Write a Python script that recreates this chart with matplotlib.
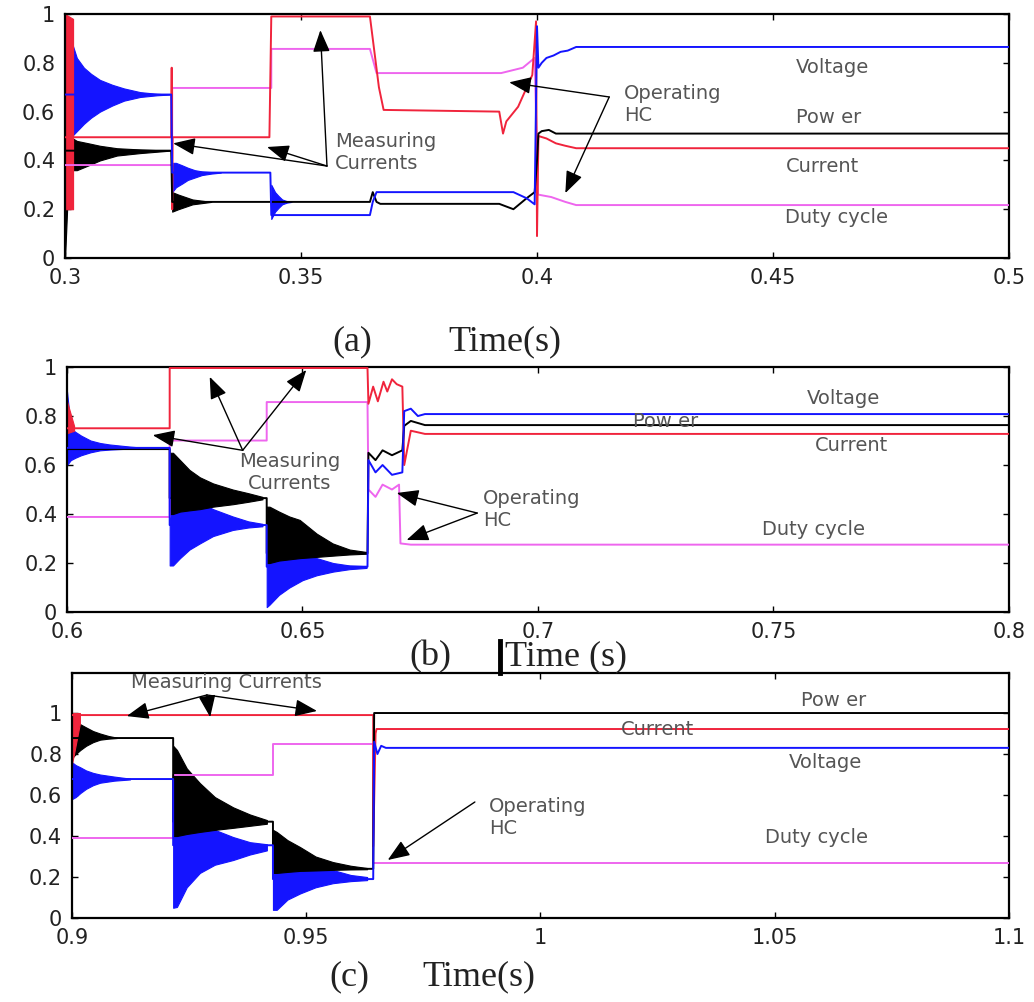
import matplotlib
matplotlib.use("Agg")
import matplotlib.pyplot as plt
from matplotlib.lines import Line2D

# colours of the four signals
C_VOLT = "#1414ff"
C_POW = "#000000"
C_CUR = "#f0243c"
C_DUTY = "#ee66ee"

# ==========================================
# panel (a): 0.3 - 0.5 s
# ==========================================
a_volt_t = [0.3, 0.3225, 0.3227, 0.3435, 0.3437, 0.3646, 0.3652, 0.3660, 0.3950, 0.3978,
            0.3995, 0.4000, 0.4003, 0.4010, 0.4020, 0.4035, 0.4050, 0.4065, 0.4083, 0.5]
a_volt_v = [0.67, 0.67, 0.35, 0.35, 0.176, 0.176, 0.23, 0.27, 0.27, 0.245,
            0.22, 0.95, 0.78, 0.80, 0.82, 0.83, 0.845, 0.85, 0.865, 0.865]
a_pow_t = [0.3, 0.3225, 0.3227, 0.3646, 0.3652, 0.3660, 0.3668, 0.3920, 0.3950, 0.3978,
           0.3995, 0.4000, 0.4003, 0.4010, 0.4025, 0.4040, 0.5]
a_pow_v = [0.44, 0.44, 0.23, 0.23, 0.27, 0.23, 0.222, 0.222, 0.20, 0.245,
           0.27, 0.40, 0.51, 0.52, 0.525, 0.51, 0.51]
a_cur_t = [0.3, 0.3225, 0.3226, 0.3227, 0.3228, 0.3433, 0.3437, 0.3646, 0.3665, 0.3675,
           0.3920, 0.3928, 0.3935, 0.3960, 0.3990, 0.3998, 0.4000, 0.4003, 0.4020, 0.4040,
           0.4060, 0.4083, 0.5]
a_cur_v = [0.495, 0.495, 0.78, 0.20, 0.495, 0.495, 0.99, 0.99, 0.70, 0.607,
           0.60, 0.51, 0.56, 0.62, 0.75, 0.97, 0.09, 0.50, 0.49, 0.47,
           0.46, 0.45, 0.45]
a_duty_t = [0.3, 0.3227, 0.3227, 0.3437, 0.3437, 0.3646, 0.3660, 0.3924, 0.3970, 0.3995,
            0.4002, 0.4030, 0.4060, 0.4083, 0.5]
a_duty_v = [0.381, 0.381, 0.697, 0.697, 0.857, 0.857, 0.758, 0.758, 0.78, 0.82,
            0.26, 0.25, 0.23, 0.217, 0.217]
# oscillation envelopes (time, upper, lower)
a_volt_bands = [
    ([0.3, 0.3006, 0.3015, 0.3025, 0.3040, 0.3055, 0.3074, 0.3100, 0.3125, 0.3159, 0.3195, 0.3222],
     [1.0, 0.95, 0.88, 0.82, 0.78, 0.755, 0.73, 0.71, 0.695, 0.68, 0.673, 0.67],
     [0.45, 0.48, 0.50, 0.52, 0.55, 0.575, 0.60, 0.625, 0.645, 0.66, 0.667, 0.67]),
    ([0.3227, 0.3235, 0.3248, 0.3260, 0.3275, 0.3290, 0.3310, 0.3330],
     [0.39, 0.39, 0.38, 0.37, 0.36, 0.355, 0.352, 0.35],
     [0.27, 0.29, 0.305, 0.32, 0.33, 0.34, 0.346, 0.35]),
    ([0.3437, 0.3445, 0.3452, 0.3460, 0.3470, 0.3480],
     [0.30, 0.27, 0.255, 0.24, 0.233, 0.23],
     [0.16, 0.19, 0.205, 0.22, 0.227, 0.23]),
]
a_pow_bands = [
    ([0.3, 0.3008, 0.3025, 0.3050, 0.3074, 0.3110, 0.3159, 0.3222],
     [1.0, 0.50, 0.48, 0.47, 0.46, 0.45, 0.445, 0.44],
     [0.0, 0.36, 0.36, 0.38, 0.40, 0.42, 0.43, 0.44]),
    ([0.3227, 0.3240, 0.3255, 0.3270, 0.3290, 0.3310],
     [0.27, 0.26, 0.25, 0.24, 0.235, 0.23],
     [0.19, 0.20, 0.21, 0.22, 0.225, 0.23]),
]
a_cur_bands = [
    ([0.3, 0.3017], [1.0, 0.98], [0.20, 0.20]),
]

# ==========================================
# panel (b): 0.6 - 0.8 s
# ==========================================
b_volt_t = [0.6, 0.6218, 0.6218, 0.6424, 0.6424, 0.6638, 0.6640, 0.6655, 0.6670, 0.6690,
            0.6712, 0.6716, 0.6730, 0.6745, 0.6760, 0.8]
b_volt_v = [0.67, 0.67, 0.355, 0.355, 0.185, 0.185, 0.62, 0.57, 0.60, 0.56,
            0.57, 0.82, 0.83, 0.80, 0.808, 0.808]
b_pow_t = [0.6, 0.6218, 0.6218, 0.6424, 0.6424, 0.6638, 0.6640, 0.6655, 0.6670, 0.6690,
           0.6712, 0.6716, 0.6730, 0.6760, 0.8]
b_pow_v = [0.665, 0.665, 0.465, 0.465, 0.24, 0.24, 0.65, 0.62, 0.66, 0.64,
           0.66, 0.76, 0.78, 0.763, 0.763]
b_cur_t = [0.6, 0.6218, 0.6218, 0.6638, 0.6640, 0.6650, 0.6660, 0.6672, 0.6680, 0.6690,
           0.6700, 0.6712, 0.6716, 0.6730, 0.6760, 0.8]
b_cur_v = [0.75, 0.75, 0.996, 0.996, 0.85, 0.92, 0.86, 0.94, 0.90, 0.95,
           0.93, 0.92, 0.60, 0.74, 0.727, 0.727]
b_duty_t = [0.6, 0.6218, 0.6218, 0.6424, 0.6424, 0.6638, 0.6640, 0.6655, 0.6670, 0.6690,
            0.6705, 0.6708, 0.6730, 0.8]
b_duty_v = [0.388, 0.388, 0.70, 0.70, 0.857, 0.857, 0.50, 0.47, 0.52, 0.50,
            0.52, 0.28, 0.275, 0.275]
b_volt_bands = [
    ([0.6, 0.6008, 0.6018, 0.6030, 0.6050, 0.6070, 0.6090, 0.6110, 0.6135, 0.6155],
     [0.90, 0.75, 0.735, 0.72, 0.70, 0.69, 0.684, 0.68, 0.675, 0.672],
     [0.60, 0.62, 0.63, 0.64, 0.652, 0.66, 0.663, 0.665, 0.667, 0.668]),
    ([0.6218, 0.6225, 0.6240, 0.6260, 0.6282, 0.6310, 0.6352, 0.6385, 0.6415],
     [0.60, 0.60, 0.55, 0.49, 0.45, 0.42, 0.39, 0.37, 0.36],
     [0.19, 0.19, 0.22, 0.255, 0.28, 0.31, 0.335, 0.345, 0.35]),
    ([0.6424, 0.6430, 0.6450, 0.6472, 0.6500, 0.6530, 0.6565, 0.6600, 0.6636],
     [0.40, 0.40, 0.35, 0.30, 0.25, 0.22, 0.20, 0.19, 0.187],
     [0.02, 0.03, 0.07, 0.10, 0.13, 0.15, 0.165, 0.175, 0.18]),
]
b_pow_bands = [
    ([0.6218, 0.6225, 0.6240, 0.6260, 0.6282, 0.6310, 0.6352, 0.6385, 0.6415],
     [0.65, 0.65, 0.62, 0.58, 0.55, 0.525, 0.50, 0.485, 0.47],
     [0.40, 0.40, 0.41, 0.415, 0.42, 0.43, 0.44, 0.45, 0.46]),
    ([0.6424, 0.6430, 0.6450, 0.6472, 0.6494, 0.6530, 0.6564, 0.6600, 0.6636],
     [0.43, 0.43, 0.41, 0.39, 0.376, 0.32, 0.28, 0.255, 0.245],
     [0.20, 0.20, 0.21, 0.215, 0.22, 0.225, 0.23, 0.235, 0.238]),
]
b_cur_bands = [
    ([0.6, 0.6015], [0.86, 0.76], [0.73, 0.74]),
]

# ==========================================
# panel (c): 0.9 - 1.1 s
# ==========================================
c_volt_t = [0.9, 0.9216, 0.9216, 0.9429, 0.9429, 0.9643, 0.9645, 0.9652, 0.9660, 0.9670, 1.1]
c_volt_v = [0.678, 0.678, 0.355, 0.355, 0.19, 0.19, 0.86, 0.80, 0.84, 0.83, 0.83]
c_pow_t = [0.9, 0.9216, 0.9216, 0.9429, 0.9429, 0.9643, 0.9645, 1.1]
c_pow_v = [0.878, 0.878, 0.47, 0.47, 0.24, 0.24, 1.0, 1.0]
c_cur_t = [0.9, 0.9643, 0.9643, 0.9648, 0.9650, 1.1]
c_cur_v = [0.99, 0.99, 0.35, 0.90, 0.922, 0.922]
c_duty_t = [0.9, 0.9216, 0.9216, 0.9429, 0.9429, 0.9643, 0.9643, 1.1]
c_duty_v = [0.39, 0.39, 0.698, 0.698, 0.849, 0.849, 0.268, 0.268]
c_volt_bands = [
    ([0.9, 0.9008, 0.9018, 0.9030, 0.9045, 0.9060, 0.9090, 0.9124],
     [0.76, 0.746, 0.735, 0.72, 0.708, 0.70, 0.69, 0.68],
     [0.58, 0.59, 0.61, 0.63, 0.648, 0.66, 0.67, 0.676]),
    ([0.9216, 0.9224, 0.9245, 0.9273, 0.9305, 0.9344, 0.9380, 0.9416],
     [0.72, 0.707, 0.58, 0.49, 0.43, 0.395, 0.37, 0.36],
     [0.05, 0.054, 0.15, 0.22, 0.26, 0.283, 0.31, 0.33]),
    ([0.9429, 0.9437, 0.9460, 0.9487, 0.9520, 0.9557, 0.9595, 0.9630],
     [0.41, 0.41, 0.35, 0.30, 0.26, 0.234, 0.21, 0.20],
     [0.04, 0.04, 0.09, 0.12, 0.15, 0.17, 0.18, 0.185]),
]
c_pow_bands = [
    ([0.9, 0.9008, 0.9018, 0.9030, 0.9045, 0.9060, 0.9078, 0.9096],
     [0.97, 0.96, 0.945, 0.93, 0.912, 0.90, 0.888, 0.88],
     [0.78, 0.80, 0.82, 0.84, 0.858, 0.87, 0.875, 0.878]),
    ([0.9216, 0.9224, 0.9245, 0.9273, 0.9305, 0.9344, 0.9380, 0.9416],
     [0.84, 0.82, 0.73, 0.658, 0.59, 0.54, 0.505, 0.478],
     [0.40, 0.40, 0.41, 0.42, 0.43, 0.44, 0.45, 0.46]),
    ([0.9429, 0.9437, 0.9460, 0.9487, 0.9520, 0.9557, 0.9595, 0.9630],
     [0.43, 0.42, 0.38, 0.346, 0.30, 0.273, 0.255, 0.244],
     [0.22, 0.22, 0.225, 0.23, 0.232, 0.235, 0.237, 0.238]),
]
c_cur_bands = [
    ([0.9, 0.9017], [1.0, 1.0], [0.75, 0.95]),
]

y_ticks = [0, 0.2, 0.4, 0.6, 0.8, 1]
y_labels = ["0", "0.2", "0.4", "0.6", "0.8", "1"]
a_xticks = [0.3, 0.35, 0.4, 0.45, 0.5]
a_xlabels = ["0.3", "0.35", "0.4", "0.45", "0.5"]
b_xticks = [0.6, 0.65, 0.7, 0.75, 0.8]
b_xlabels = ["0.6", "0.65", "0.7", "0.75", "0.8"]
c_xticks = [0.9, 0.95, 1.0, 1.05, 1.1]
c_xlabels = ["0.9", "0.95", "1", "1.05", "1.1"]


def draw_signals(ax, volt, pow_, cur, duty, vb, pb, cb):
    for t, hi, lo in vb:
        ax.fill_between(t, lo, hi, color=C_VOLT, lw=0.8, zorder=2)
    for t, hi, lo in pb:
        ax.fill_between(t, lo, hi, color=C_POW, lw=0.8, zorder=2.1)
    for t, hi, lo in cb:
        ax.fill_between(t, lo, hi, color=C_CUR, lw=0.8, zorder=2.2)
    ax.plot(*duty, color=C_DUTY, lw=1.4, zorder=3)
    ax.plot(*cur, color=C_CUR, lw=1.4, zorder=3.1)
    ax.plot(*pow_, color=C_POW, lw=1.4, zorder=3.2)
    ax.plot(*volt, color=C_VOLT, lw=1.4, zorder=3.3)


def style_axes(ax, xticks, xlabels, xlim, ylim):
    ax.set_xlim(*xlim)
    ax.set_ylim(*ylim)
    ax.set_xticks(xticks)
    ax.set_xticklabels(xlabels)
    ax.set_yticks(y_ticks)
    ax.set_yticklabels(y_labels)
    ax.tick_params(direction="in", length=4, width=1, top=True, right=True,
                   labelsize=15, labelcolor="#222222")
    ax.tick_params(axis="x", pad=7)
    ax.tick_params(axis="y", pad=7)
    for s in ax.spines.values():
        s.set_linewidth(1.6)


def label(ax, x, y, s, ha="center"):
    ax.text(x, y, s, ha=ha, va="center", fontsize=14, color="#555555", zorder=5)


def arrow(ax, tail, head):
    ax.annotate("", xy=head, xytext=tail, zorder=6,
                arrowprops=dict(arrowstyle="-|>,head_length=0.9,head_width=0.35",
                                color="k", lw=1.0, shrinkA=0, shrinkB=0,
                                mutation_scale=15))


fig = plt.figure(figsize=(10.34, 10.02), dpi=100)

# ---- (a)
ax1 = fig.add_axes([0.0629, 0.7425, 0.9129, 0.2435])
draw_signals(ax1, (a_volt_t, a_volt_v), (a_pow_t, a_pow_v), (a_cur_t, a_cur_v),
             (a_duty_t, a_duty_v), a_volt_bands, a_pow_bands, a_cur_bands)
style_axes(ax1, a_xticks, a_xlabels, (0.3, 0.5), (0, 1))
label(ax1, 0.4625, 0.78, "Voltage")
label(ax1, 0.4617, 0.574, "Pow er")
label(ax1, 0.4604, 0.377, "Current")
label(ax1, 0.4634, 0.168, "Duty cycle")
label(ax1, 0.4184, 0.63, "Operating\nHC", ha="left")
label(ax1, 0.3572, 0.434, "Measuring\nCurrents", ha="left")
for h in [(0.3229, 0.47), (0.3428, 0.455), (0.3541, 0.934)]:
    arrow(ax1, (0.3555, 0.377), h)
for h in [(0.3941, 0.72), (0.4060, 0.266)]:
    arrow(ax1, (0.4153, 0.66), h)

# ---- (b)
ax2 = fig.add_axes([0.0648, 0.3892, 0.9110, 0.2445])
draw_signals(ax2, (b_volt_t, b_volt_v), (b_pow_t, b_pow_v), (b_cur_t, b_cur_v),
             (b_duty_t, b_duty_v), b_volt_bands, b_pow_bands, b_cur_bands)
style_axes(ax2, b_xticks, b_xlabels, (0.6, 0.8), (0, 1))
label(ax2, 0.7649, 0.87, "Voltage")
label(ax2, 0.7271, 0.776, "Pow er")
label(ax2, 0.7666, 0.678, "Current")
label(ax2, 0.7585, 0.335, "Duty cycle")
label(ax2, 0.6884, 0.42, "Operating\nHC", ha="left")
label(ax2, 0.6473, 0.57, "Measuring\nCurrents")
for h in [(0.6182, 0.722), (0.6303, 0.96), (0.6508, 0.988)]:
    arrow(ax2, (0.6373, 0.66), h)
for h in [(0.6700, 0.486), (0.6721, 0.294)]:
    arrow(ax2, (0.6871, 0.404), h)

# ---- (c)
ax3 = fig.add_axes([0.0696, 0.0838, 0.9062, 0.2445])
draw_signals(ax3, (c_volt_t, c_volt_v), (c_pow_t, c_pow_v), (c_cur_t, c_cur_v),
             (c_duty_t, c_duty_v), c_volt_bands, c_pow_bands, c_cur_bands)
style_axes(ax3, c_xticks, c_xlabels, (0.9, 1.1), (0, 1.195))
label(ax3, 1.0626, 1.063, "Pow er")
label(ax3, 1.0249, 0.922, "Current")
label(ax3, 1.0609, 0.761, "Voltage")
label(ax3, 1.0590, 0.395, "Duty cycle")
label(ax3, 0.9890, 0.49, "Operating\nHC", ha="left")
label(ax3, 0.9330, 1.15, "Measuring Currents")
for h in [(0.9117, 0.985), (0.9295, 0.98), (0.9523, 1.01)]:
    arrow(ax3, (0.9288, 1.088), h)
arrow(ax3, (0.9860, 0.566), (0.9674, 0.283))

# captions under each panel
W, H = 1034.0, 1002.0
cap = dict(family="Liberation Serif", fontsize=26, va="center", color="#222222")
fig.text(352 / W, 1 - 342 / H, "(a)", ha="center", **cap)
fig.text(505 / W, 1 - 342 / H, "Time(s)", ha="center", **cap)
fig.text(430 / W, 1 - 657 / H, "(b)", ha="center", **cap)
fig.text(505 / W, 1 - 657 / H, "Time (s)", ha="left", **cap)
fig.add_artist(Line2D([500 / W, 500 / W], [1 - 641 / H, 1 - 673 / H], color="k", lw=3.5))
fig.text(349 / W, 1 - 977 / H, "(c)", ha="center", **cap)
fig.text(479 / W, 1 - 977 / H, "Time(s)", ha="center", **cap)

fig.savefig("out.png", dpi=100)
